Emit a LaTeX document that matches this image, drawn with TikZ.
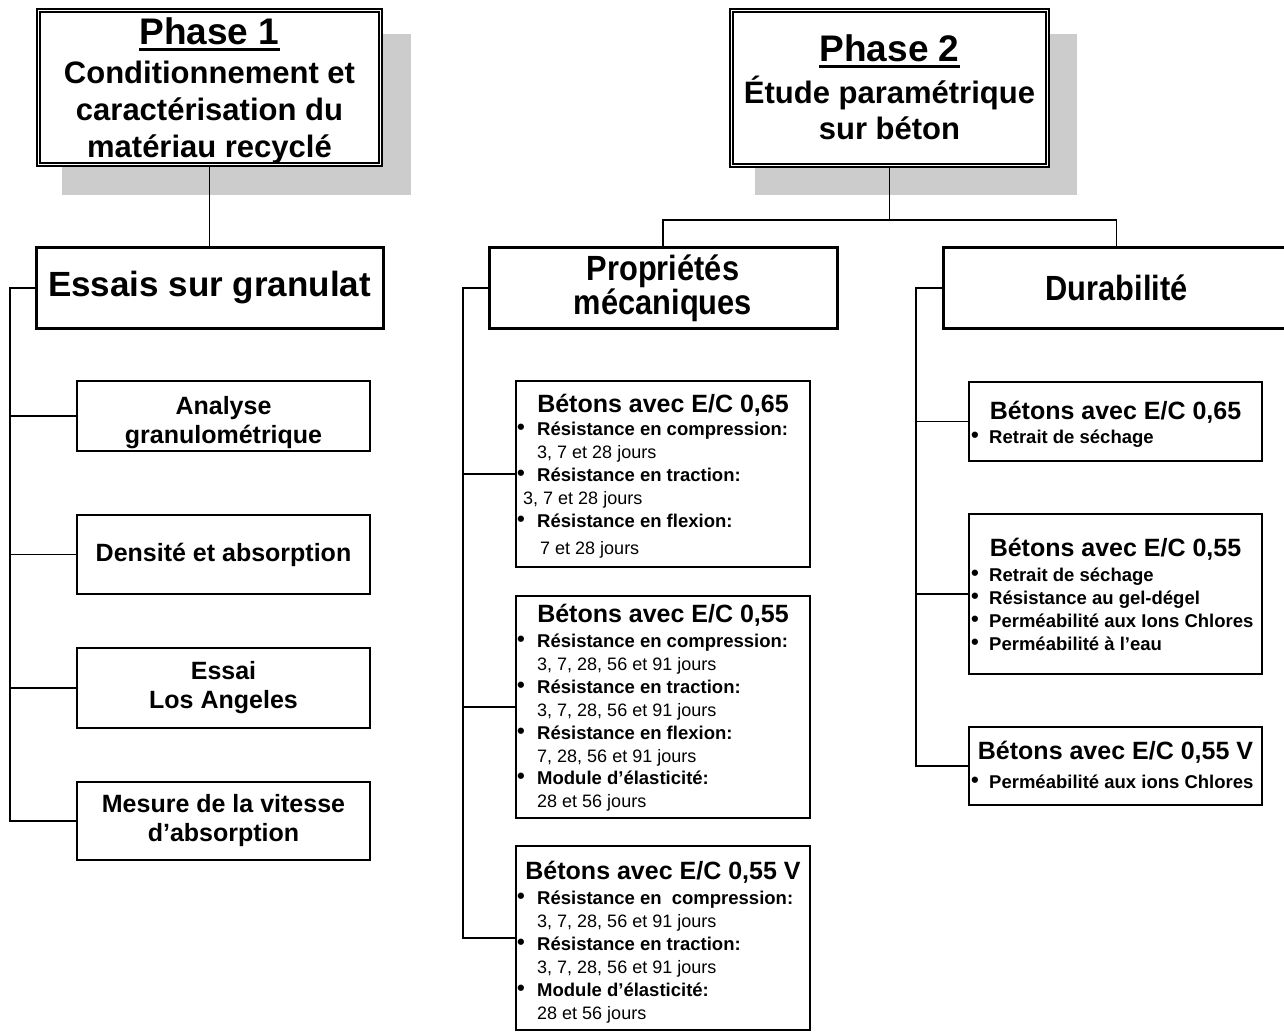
\documentclass[tikz,border=0pt]{standalone}
\usepackage{fontspec}
\setmainfont{Liberation Sans}
\newfontfamily\narrowfont[FakeStretch=0.88]{Liberation Sans}
\usetikzlibrary{calc}
\definecolor{shadowgray}{RGB}{204,204,204}
\pgfdeclarelayer{background}
\pgfsetlayers{background,main}
\newcommand\fphase{\fontsize{37}{37}\bfseries\selectfont}
\newcommand\fsub{\fontsize{31}{37}\bfseries\selectfont}
\newcommand\fhead{\fontsize{35}{34}\bfseries\selectfont}
\newcommand\fnarrow{\narrowfont\fontsize{35}{34}\bfseries\selectfont}
\newcommand\fchild{\fontsize{25}{29}\bfseries\selectfont}
\newcommand\ftitle{\fontsize{25}{25}\bfseries\selectfont}
\newcommand\fbul{\fontsize{18.5}{23}\bfseries\selectfont}
\newcommand\fdot{\fontsize{22}{22}\bfseries\selectfont}
\newcommand\fday{\fontsize{18}{23}\selectfont}
\begin{document}
\begin{tikzpicture}[x=1pt,y=-1pt,
  phasebox/.style={draw, double, line width=1.6pt, double distance=1.8pt, fill=white, anchor=north west, inner sep=0, outer sep=0},
  bigbox/.style={draw, line width=3pt, fill=white, anchor=north west, inner sep=0, outer sep=0, align=center},
  subbox/.style={draw, line width=2pt, fill=white, anchor=north west, inner sep=0, outer sep=0, align=center},
  link/.style={line width=1.8pt},
  txt/.style={inner sep=0, anchor=base},
  ltxt/.style={inner sep=0, anchor=base west},
  bul/.style={inner sep=0, anchor=center, font=\fdot}]
\useasboundingbox (0,0) rectangle (1284,1032);

% ---------- Phase boxes ----------
\node[phasebox, minimum width=342pt, minimum height=154pt] (p1) at (38.5,10.5) {};
\node[phasebox, minimum width=316pt, minimum height=155pt] (p2) at (731.5,10.5) {};

\node[txt, font=\fphase] (p1a) at (209.5,45) {Phase 1};
\node[txt, font=\fsub] (p1b) at (209.5,84) {Conditionnement et};
\node[txt, font=\fsub] (p1c) at (209.5,121) {caractérisation du};
\node[txt, font=\fsub] (p1d) at (209.5,158) {matériau recyclé};
\draw[line width=3pt] ([yshift=-4.5pt]p1a.base west) -- ([yshift=-4.5pt]p1a.base east);

\node[txt, font=\fphase] (p2a) at (889.5,62) {Phase 2};
\node[txt, font=\fsub] (p2b) at (889.5,104) {Étude paramétrique};
\node[txt, font=\fsub] (p2c) at (889.5,140) {sur béton};
\draw[line width=3pt] ([yshift=-4.5pt]p2a.base west) -- ([yshift=-4.5pt]p2a.base east);

% ---------- Level 2 ----------
\node[bigbox, minimum width=347pt, minimum height=80pt, font=\fhead] (ess) at (36,248) {Essais sur granulat};
\node[bigbox, minimum width=348pt, minimum height=80pt, font=\fnarrow] (prop) at (489,248) {Propriétés\\mécaniques};
\node[bigbox, minimum width=347pt, minimum height=80pt, font=\fnarrow] (dur) at (943,248) {Durabilité};

% ---------- Phase 1 children ----------
\node[subbox, minimum width=293pt, minimum height=70pt, font=\fchild] (ana) at (77,381) {\rule{0pt}{32pt}Analyse\\granulométrique};
\node[subbox, minimum width=293pt, minimum height=79pt, font=\fchild] (den) at (77,515) {Densité et absorption};
\node[subbox, minimum width=293pt, minimum height=80pt, font=\fchild] (los) at (77,648) {Essai\\Los Angeles};
\node[subbox, minimum width=293pt, minimum height=78pt, font=\fchild] (mes) at (77,782) {Mesure de la vitesse\\d’absorption};

% ---------- Mechanical boxes ----------
\node[subbox, minimum width=294pt, minimum height=186pt] (m1) at (516,381) {};
\node[subbox, minimum width=294pt, minimum height=222pt] (m2) at (516,596) {};
\node[subbox, minimum width=294pt, minimum height=184pt] (m3) at (516,846) {};

\node[txt, font=\ftitle] (m1t) at (663,412) {Bétons avec E/C 0,65};
\node[bul] (m1b1) at (521,429) {•};
\node[ltxt, font=\fbul] (m1l1) at (537,435) {Résistance en compression:};
\node[ltxt, font=\fday] (m1l2) at (537,458) {3, 7 et 28 jours};
\node[bul] (m1b2) at (521,475) {•};
\node[ltxt, font=\fbul] (m1l3) at (537,481) {Résistance en traction:};
\node[ltxt, font=\fday] (m1l4) at (523,504) {3, 7 et 28 jours};
\node[bul] (m1b3) at (521,521) {•};
\node[ltxt, font=\fbul] (m1l5) at (537,527) {Résistance en flexion:};
\node[ltxt, font=\fday] (m1l6) at (540,554) {7 et 28 jours};

\node[txt, font=\ftitle] (m2t) at (663,622) {Bétons avec E/C 0,55};
\node[bul] (m2b1) at (521,641) {•};
\node[ltxt, font=\fbul] (m2l1) at (537,647) {Résistance en compression:};
\node[ltxt, font=\fday] (m2l2) at (537,670) {3, 7, 28, 56 et 91 jours};
\node[bul] (m2b2) at (521,687) {•};
\node[ltxt, font=\fbul] (m2l3) at (537,693) {Résistance en traction:};
\node[ltxt, font=\fday] (m2l4) at (537,716) {3, 7, 28, 56 et 91 jours};
\node[bul] (m2b3) at (521,733) {•};
\node[ltxt, font=\fbul] (m2l5) at (537,739) {Résistance en flexion:};
\node[ltxt, font=\fday] (m2l6) at (537,762) {7, 28, 56 et 91 jours};
\node[bul] (m2b4) at (521,778) {•};
\node[ltxt, font=\fbul] (m2l7) at (537,784) {Module d’élasticité:};
\node[ltxt, font=\fday] (m2l8) at (537,807) {28 et 56 jours};

\node[txt, font=\ftitle] (m3t) at (663,879) {Bétons avec E/C 0,55 V};
\node[bul] (m3b1) at (521,898) {•};
\node[ltxt, font=\fbul] (m3l1) at (537,904) {Résistance en\ \ compression:};
\node[ltxt, font=\fday] (m3l2) at (537,927) {3, 7, 28, 56 et 91 jours};
\node[bul] (m3b2) at (521,944) {•};
\node[ltxt, font=\fbul] (m3l3) at (537,950) {Résistance en traction:};
\node[ltxt, font=\fday] (m3l4) at (537,973) {3, 7, 28, 56 et 91 jours};
\node[bul] (m3b3) at (521,990) {•};
\node[ltxt, font=\fbul] (m3l5) at (537,996) {Module d’élasticité:};
\node[ltxt, font=\fday] (m3l6) at (537,1019) {28 et 56 jours};

% ---------- Durability boxes ----------
\node[subbox, minimum width=293pt, minimum height=79pt] (d1) at (969,382) {};
\node[subbox, minimum width=293pt, minimum height=160pt] (d2) at (969,514) {};
\node[subbox, minimum width=293pt, minimum height=78pt] (d3) at (969,727) {};

\node[txt, font=\ftitle] (d1t) at (1115.5,419) {Bétons avec E/C 0,65};
\node[bul] (d1b1) at (975,437) {•};
\node[ltxt, font=\fbul] (d1l1) at (989,443) {Retrait de séchage};

\node[txt, font=\ftitle] (d2t) at (1115.5,556) {Bétons avec E/C 0,55};
\node[bul] (d2b1) at (975,575) {•};
\node[ltxt, font=\fbul] (d2l1) at (989,581) {Retrait de séchage};
\node[bul] (d2b2) at (975,598) {•};
\node[ltxt, font=\fbul] (d2l2) at (989,604) {Résistance au gel-dégel};
\node[bul] (d2b3) at (975,621) {•};
\node[ltxt, font=\fbul] (d2l3) at (989,627) {Perméabilité aux Ions Chlores};
\node[bul] (d2b4) at (975,644) {•};
\node[ltxt, font=\fbul] (d2l4) at (989,650) {Perméabilité à l’eau};

\node[txt, font=\ftitle] (d3t) at (1115.5,759) {Bétons avec E/C 0,55 V};
\node[bul] (d3b1) at (975,782) {•};
\node[ltxt, font=\fbul] (d3l1) at (989,788) {Perméabilité aux ions Chlores};

% ---------- Shadows and connectors ----------
\begin{pgfonlayer}{background}
  \fill[shadowgray] ($(p1.north west)+(23.5,23.5)$) rectangle ($(p1.south east)+(30.5,30.5)$);
  \fill[shadowgray] ($(p2.north west)+(23.5,23.5)$) rectangle ($(p2.south east)+(29.5,29.5)$);

  \draw[link] (p1.south) -- (ess.north);
  \coordinate (y2) at (0,220);
  \coordinate (j2) at (p2.south |- y2);
  \draw[link] (p2.south) -- (j2);
  \draw[link] (prop.north) |- (j2) -| (dur.north);

  \coordinate (x1) at (10,0);
  \coordinate (b1) at (ess.west -| x1);
  \draw[link] (ess.west) -- (b1) |- (mes.west);
  \foreach \n in {ana,den,los} \draw[link] (b1 |- \n.west) -- (\n.west);

  \coordinate (x2) at (463,0);
  \coordinate (b2) at (prop.west -| x2);
  \draw[link] (prop.west) -- (b2) |- (m3.west);
  \foreach \n in {m1,m2} \draw[link] (b2 |- \n.west) -- (\n.west);

  \coordinate (x3) at (916,0);
  \coordinate (b3) at (dur.west -| x3);
  \draw[link] (dur.west) -- (b3) |- (d3.west);
  \foreach \n in {d1,d2} \draw[link] (b3 |- \n.west) -- (\n.west);
\end{pgfonlayer}
\end{tikzpicture}
\end{document}
